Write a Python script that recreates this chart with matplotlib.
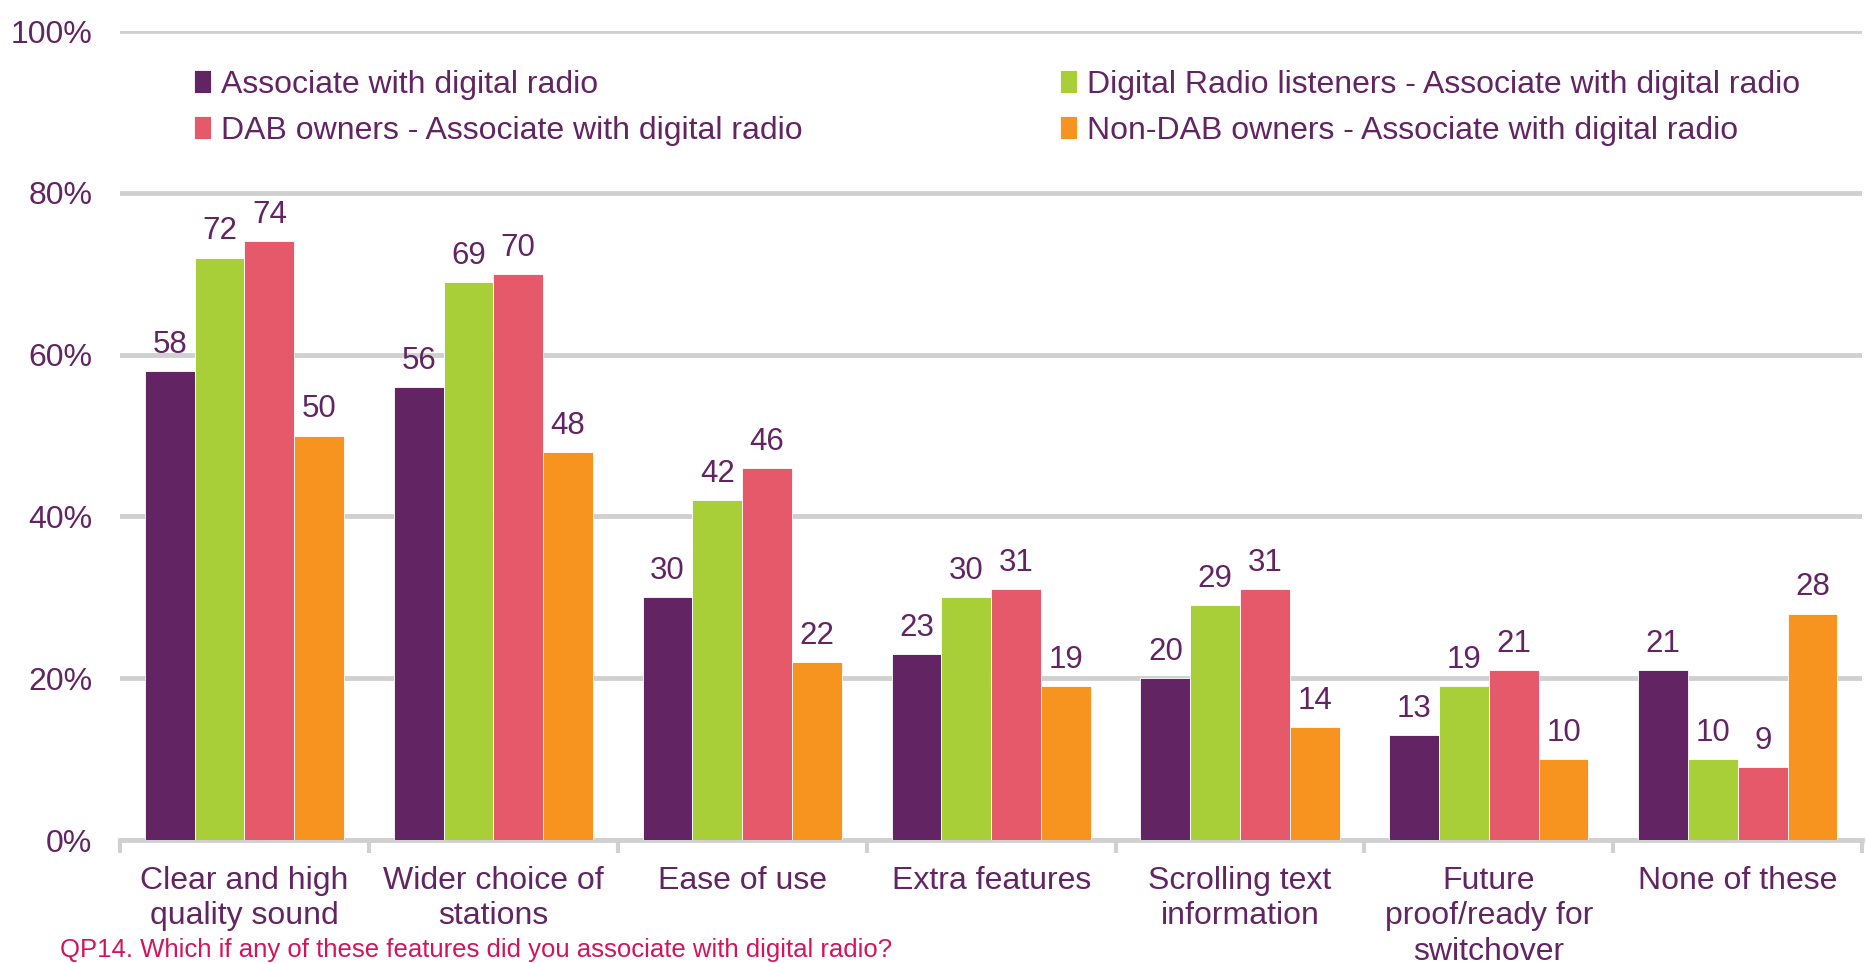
import matplotlib
matplotlib.use("Agg")
import matplotlib.pyplot as plt
import numpy as np

plt.rcParams['font.family'] = ['Liberation Sans', 'DejaVu Sans']

categories = ["Clear and high\nquality sound", "Wider choice of\nstations", "Ease of use",
              "Extra features", "Scrolling text\ninformation",
              "Future\nproof/ready for\nswitchover", "None of these"]
series_names = ["Associate with digital radio",
                "Digital Radio listeners - Associate with digital radio",
                "DAB owners - Associate with digital radio",
                "Non-DAB owners - Associate with digital radio"]
associate = [58, 56, 30, 23, 20, 13, 21]
drl_associate = [72, 69, 42, 30, 29, 19, 10]
dab_associate = [74, 70, 46, 31, 31, 21, 9]
nondab_associate = [50, 48, 22, 19, 14, 10, 28]
yticks = [0, 20, 40, 60, 80, 100]
ytick_labels = ["0%", "20%", "40%", "60%", "80%", "100%"]
footnote = "QP14. Which if any of these features did you associate with digital radio?"

colors = ["#622463", "#A9CF38", "#E5596B", "#F6941F"]
text_color = "#622463"
grid_color = "#D0D0D0"

fig = plt.figure(figsize=(18.66, 9.63), dpi=100)
ax = fig.add_axes([0.0643, 0.1277, 0.9337, 0.8401])

x = np.arange(len(categories))
width = 0.2
all_series = [associate, drl_associate, dab_associate, nondab_associate]
bars = []
for i, (vals, col, name) in enumerate(zip(all_series, colors, series_names)):
    offs = (i - 1.5) * width
    b = ax.bar(x + offs, vals, width, color=col, edgecolor="white", linewidth=0.6,
               label=name, zorder=3)
    bars.append(b)
    for xi, v in zip(x + offs, vals):
        ax.annotate(f"{v}", (xi, v), xytext=(0, 8), textcoords="offset points",
                    ha="center", va="bottom", fontsize=22.5, color=text_color, zorder=4)

ax.set_xlim(-0.5, len(categories) - 0.5)
ax.set_ylim(0, 100)
ax.set_yticks(yticks)
ax.set_yticklabels(ytick_labels, fontsize=23, color=text_color)
ax.yaxis.grid(True, color=grid_color, linewidth=3.5, zorder=0)
ax.set_axisbelow(True)
ax.tick_params(axis="y", length=0, pad=20)

ax.set_xticks(x)
ax.set_xticklabels(categories, fontsize=23, color=text_color, linespacing=1.22)
ax.tick_params(axis="x", which="major", length=0, pad=19)
ax.set_xticks(np.arange(len(categories) + 1) - 0.5, minor=True)
ax.tick_params(axis="x", which="minor", length=9, width=3, color=grid_color)

for s in ["top", "right", "left"]:
    ax.spines[s].set_visible(False)
ax.spines["bottom"].set_color(grid_color)
ax.spines["bottom"].set_linewidth(3.5)

handles = [bars[0], bars[2], bars[1], bars[3]]
labels = [series_names[0], series_names[2], series_names[1], series_names[3]]
leg = ax.legend(handles, labels, ncol=2, loc="upper left",
                bbox_to_anchor=(0.035, 0.968), frameon=False, fontsize=23,
                handlelength=0.55, handleheight=0.7, handletextpad=0.3,
                columnspacing=8.05, labelspacing=0.5, borderaxespad=0)
for t in leg.get_texts():
    t.set_color(text_color)

fig.text(0.032, 0.0135, footnote, fontsize=18.5, color="#D4145A", ha="left", va="center")

fig.savefig("out.png", dpi=100)
